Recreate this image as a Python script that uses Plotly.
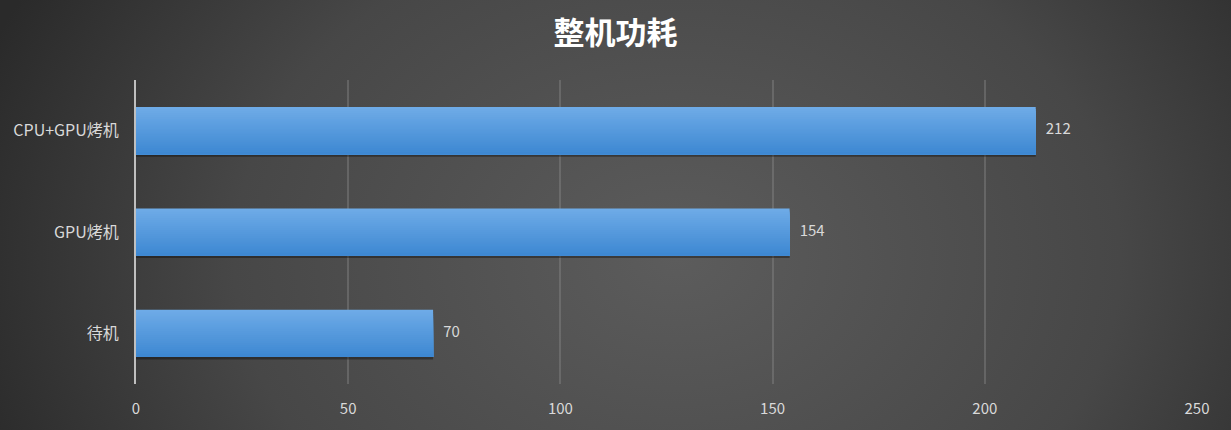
import base64
import plotly.graph_objects as go

# data
categories = ['CPU+GPU烤机', 'GPU烤机', '待机']
power = [212, 154, 70]
x_ticks = [0, 50, 100, 150, 200, 250]

W, H = 1231, 430
ml, mr, mt, mb = 136, 34, 80, 46
pw, ph = W - ml - mr, H - mt - mb

# radial gradient background as an svg image
svg = ('<svg xmlns="http://www.w3.org/2000/svg" width="1231" height="430" '
       'preserveAspectRatio="none" viewBox="0 0 1231 430">'
       '<defs><radialGradient id="g" cx="0.55" cy="0.6" r="0.6" '
       'gradientTransform="translate(0.55,0.6) scale(1,2.2) translate(-0.55,-0.6)">'
       '<stop offset="0" stop-color="#5c5c5c"/>'
       '<stop offset="0.6" stop-color="#474747"/>'
       '<stop offset="1" stop-color="#2a2a2a"/>'
       '</radialGradient></defs>'
       '<rect width="1231" height="430" fill="url(#g)"/></svg>')
bg_src = 'data:image/svg+xml;base64,' + base64.b64encode(svg.encode()).decode()

fig = go.Figure()

bar_w = 0.465
# shadow under bars
fig.add_trace(go.Bar(
    x=power, y=categories, orientation='h',
    width=bar_w, offset=-bar_w / 2 + 0.025,
    marker=dict(color='rgba(0,0,0,0.35)', line=dict(width=0)),
    hoverinfo='skip', showlegend=False))

# nested bars (each one starts a bit lower) give a vertical gradient
top = (110, 171, 231)
bot = (62, 136, 210)
n = 24
step = bar_w / n
for i in range(n):
    t = i / (n - 1)
    c = tuple(round(top[k] + (bot[k] - top[k]) * t) for k in range(3))
    fig.add_trace(go.Bar(
        x=power, y=categories, orientation='h',
        width=bar_w - i * step, offset=-bar_w / 2 + i * step,
        marker=dict(color='rgb(%d,%d,%d)' % c, line=dict(width=0)),
        hoverinfo='skip', showlegend=False))

# value labels
fig.add_trace(go.Scatter(
    x=power, y=categories, mode='text',
    text=['   ' + str(v) for v in power],
    textposition='middle right',
    textfont=dict(size=15, color='#d9d9d9', family='Noto Sans CJK SC'),
    hoverinfo='skip', showlegend=False))

fig.update_layout(
    width=W, height=H,
    barmode='overlay',
    margin=dict(l=ml, r=mr, t=mt, b=mb),
    paper_bgcolor='#3a3a3a',
    plot_bgcolor='rgba(0,0,0,0)',
    font=dict(family='Noto Sans CJK SC', color='#d9d9d9', size=15),
    title=dict(text='<b>整机功耗</b>', x=0.5, xanchor='center',
               y=1 - 33 / H, yanchor='middle',
               font=dict(size=31, color='#ffffff', family='Noto Sans CJK SC')),
    images=[dict(source=bg_src, xref='paper', yref='paper',
                 x=-ml / pw, y=1 + mt / ph, sizex=W / pw, sizey=H / ph,
                 xanchor='left', yanchor='top', sizing='stretch', layer='below')],
    xaxis=dict(range=[0, 250], tickvals=x_ticks, showgrid=True,
               gridcolor='rgba(140,140,140,0.4)', gridwidth=1.5,
               zeroline=False, showline=False,
               ticks='outside', ticklen=11, tickcolor='rgba(0,0,0,0)',
               tickfont=dict(size=15, color='#d9d9d9')),
    yaxis=dict(autorange='reversed', showgrid=False,
               showline=True, linecolor='#bfbfbf', linewidth=2,
               ticks='outside', ticklen=12, tickcolor='rgba(0,0,0,0)',
               tickfont=dict(size=16, color='#d9d9d9')),
)

fig.write_html('out.html', config={'displayModeBar': False},
               post_script="document.body.style.margin='0';document.body.style.background='#2a2a2a';")
